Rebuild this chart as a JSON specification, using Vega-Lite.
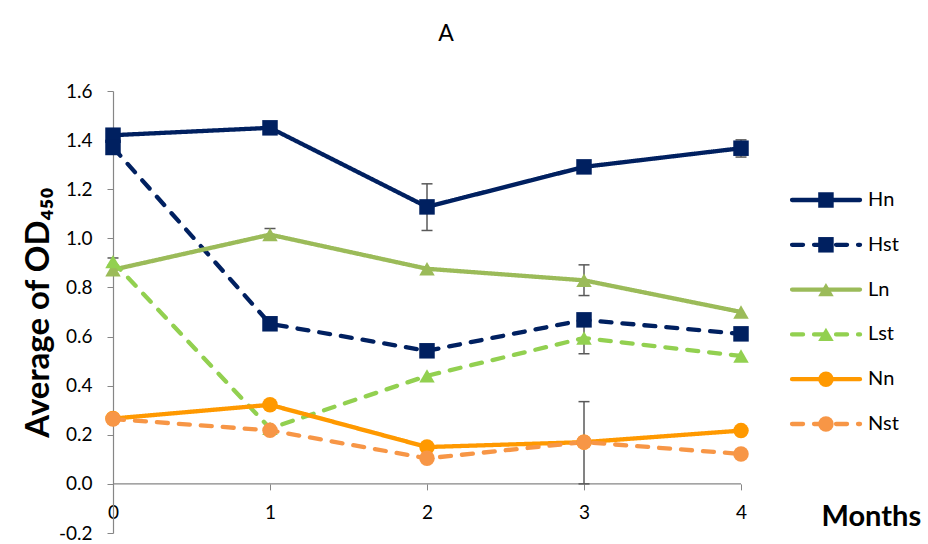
{
  "$schema": "https://vega.github.io/schema/vega-lite/v6.json",
  "width": 815,
  "height": 442,
  "autosize": {"type": "none"},
  "padding": {"left": 113, "top": 91, "right": 0, "bottom": 11},
  "background": "white",
  "config": {"view": {"stroke": null}, "font": "Lato"},
  "title": {"text": "A", "fontSize": 23, "fontWeight": "normal", "color": "black", "anchor": "middle", "dx": -74.5, "baseline": "bottom", "offset": 13, "font": "Lato"},
  "datasets": {
    "series": [
      {"month": 0, "value": 1.42, "series": "Hn"},
      {"month": 1, "value": 1.45, "series": "Hn"},
      {"month": 2, "value": 1.128, "series": "Hn"},
      {"month": 3, "value": 1.291, "series": "Hn"},
      {"month": 4, "value": 1.367, "series": "Hn"},
      {"month": 0, "value": 1.37, "series": "Hst"},
      {"month": 1, "value": 0.652, "series": "Hst"},
      {"month": 2, "value": 0.542, "series": "Hst"},
      {"month": 3, "value": 0.668, "series": "Hst"},
      {"month": 4, "value": 0.611, "series": "Hst"},
      {"month": 0, "value": 0.872, "series": "Ln"},
      {"month": 1, "value": 1.015, "series": "Ln"},
      {"month": 2, "value": 0.876, "series": "Ln"},
      {"month": 3, "value": 0.829, "series": "Ln"},
      {"month": 4, "value": 0.7, "series": "Ln"},
      {"month": 0, "value": 0.905, "series": "Lst"},
      {"month": 1, "value": 0.226, "series": "Lst"},
      {"month": 2, "value": 0.44, "series": "Lst"},
      {"month": 3, "value": 0.594, "series": "Lst"},
      {"month": 4, "value": 0.521, "series": "Lst"},
      {"month": 0, "value": 0.266, "series": "Nn"},
      {"month": 1, "value": 0.322, "series": "Nn"},
      {"month": 2, "value": 0.15, "series": "Nn"},
      {"month": 3, "value": 0.17, "series": "Nn"},
      {"month": 4, "value": 0.217, "series": "Nn"},
      {"month": 0, "value": 0.264, "series": "Nst"},
      {"month": 1, "value": 0.218, "series": "Nst"},
      {"month": 2, "value": 0.104, "series": "Nst"},
      {"month": 3, "value": 0.17, "series": "Nst"},
      {"month": 4, "value": 0.122, "series": "Nst"}
    ],
    "errors": [
      {"month": 2, "low": 1.032, "high": 1.222},
      {"month": 4, "low": 1.331, "high": 1.401},
      {"month": 1, "low": 0.995, "high": 1.04},
      {"month": 0, "low": 0.89, "high": 0.92},
      {"month": 3, "low": 0.767, "high": 0.892},
      {"month": 3, "low": 0.53, "high": 0.66},
      {"month": 3, "low": 0.0, "high": 0.335}
    ],
    "legend": [
      {"series": "Hn"}, {"series": "Hst"}, {"series": "Ln"},
      {"series": "Lst"}, {"series": "Nn"}, {"series": "Nst"}
    ]
  },
  "resolve": {"scale": {"y": "independent"}},
  "layer": [
    {
      "layer": [
        {
          "data": {"values": [{"z": 0}]},
          "mark": {"type": "rule", "color": "#868686", "strokeWidth": 1.2},
          "encoding": {
            "x": {"datum": 0, "type": "quantitative", "scale": {"domain": [0, 5.191], "nice": false, "zero": false},
              "axis": {"values": [0, 1, 2, 3, 4], "format": "d", "offset": -49.11, "domain": false, "grid": false, "ticks": true, "tickSize": 6, "tickColor": "#868686",
                "labelFontSize": 19, "labelColor": "black", "labelPadding": 14, "labelFont": "Lato", "labelFlush": false,
                "title": "Months", "titleFontSize": 29, "titleFontWeight": "bold", "titleColor": "black", "titleFont": "Lato",
                "titleX": 708, "titleY": 33, "titleAlign": "left", "titleBaseline": "middle", "titleAnchor": "start"}},
            "x2": {"datum": 4},
            "y": {"datum": 0, "type": "quantitative", "scale": {"domain": [-0.2, 1.6], "nice": false, "zero": false},
              "axis": {"values": [-0.2, 0, 0.2, 0.4, 0.6, 0.8, 1.0, 1.2, 1.4, 1.6], "labelExpr": "datum.value < 0 ? '-' + format(-datum.value, '.1f') : format(datum.value, '.1f')", "grid": false,
                "domainColor": "#868686", "domainWidth": 1.2, "tickColor": "#868686", "tickSize": 6,
                "labelFontSize": 19, "labelColor": "black", "labelPadding": 15, "labelFont": "Lato",
                "title": "Average of OD₄₅₀", "titleFontSize": 33, "titleFontWeight": "bold", "titleColor": "black", "titleFont": "Lato", "titlePadding": 3}}
          }
        },
        {
          "data": {"name": "errors"},
          "mark": {"type": "rule", "color": "#595959", "strokeWidth": 1.5},
          "encoding": {
            "x": {"field": "month", "type": "quantitative"},
            "y": {"field": "low", "type": "quantitative"},
            "y2": {"field": "high"}
          }
        },
        {
          "data": {"name": "errors"},
          "mark": {"type": "tick", "orient": "horizontal", "color": "#595959", "size": 11, "thickness": 1.5, "opacity": 1},
          "encoding": {
            "x": {"field": "month", "type": "quantitative"},
            "y": {"field": "low", "type": "quantitative"}
          }
        },
        {
          "data": {"name": "errors"},
          "mark": {"type": "tick", "orient": "horizontal", "color": "#595959", "size": 11, "thickness": 1.5, "opacity": 1},
          "encoding": {
            "x": {"field": "month", "type": "quantitative"},
            "y": {"field": "high", "type": "quantitative"}
          }
        },
        {
          "data": {"name": "series"},
          "mark": {"type": "line", "strokeWidth": 4.3, "strokeCap": "round", "strokeJoin": "round"},
          "encoding": {
            "x": {"field": "month", "type": "quantitative"},
            "y": {"field": "value", "type": "quantitative"},
            "color": {"field": "series", "type": "nominal", "legend": null,
              "scale": {"domain": ["Hn", "Hst", "Ln", "Lst", "Nn", "Nst"], "range": ["#002060", "#002060", "#9BBB59", "#92D050", "#FF9900", "#F79646"]}},
            "strokeDash": {"field": "series", "type": "nominal", "legend": null,
              "scale": {"domain": ["Hn", "Hst", "Ln", "Lst", "Nn", "Nst"], "range": [[1, 0], [11, 11], [1, 0], [11, 11], [1, 0], [11, 11]]}}
          }
        },
        {
          "data": {"name": "series"},
          "mark": {"type": "point", "filled": true, "opacity": 1, "size": 240},
          "encoding": {
            "x": {"field": "month", "type": "quantitative"},
            "y": {"field": "value", "type": "quantitative"},
            "color": {"field": "series", "type": "nominal", "legend": null},
            "shape": {"field": "series", "type": "nominal", "legend": null,
              "scale": {"domain": ["Hn", "Hst", "Ln", "Lst", "Nn", "Nst"], "range": ["square", "square", "triangle-up", "triangle-up", "circle", "circle"]}}
          }
        }
      ]
    },
    {
      "data": {"name": "legend"},
      "encoding": {
        "y": {"field": "series", "type": "nominal", "axis": null,
          "scale": {"type": "point", "padding": 0.433, "domain": [" ", "  ", "Hn", "Hst", "Ln", "Lst", "Nn", "Nst", "   ", "    "]}}
      },
      "layer": [
        {
          "mark": {"type": "rule", "strokeWidth": 4.3, "strokeCap": "round"},
          "encoding": {
            "x": {"datum": 4.325},
            "x2": {"datum": 4.758},
            "color": {"field": "series", "type": "nominal", "legend": null},
            "strokeDash": {"field": "series", "type": "nominal", "legend": null}
          }
        },
        {
          "mark": {"type": "point", "filled": true, "opacity": 1, "size": 240},
          "encoding": {
            "x": {"datum": 4.541},
            "color": {"field": "series", "type": "nominal", "legend": null},
            "shape": {"field": "series", "type": "nominal", "legend": null}
          }
        },
        {
          "mark": {"type": "text", "align": "left", "baseline": "middle", "fontSize": 20, "color": "black", "font": "Lato", "dx": 0},
          "encoding": {
            "x": {"datum": 4.809},
            "text": {"field": "series", "type": "nominal"}
          }
        }
      ]
    }
  ]
}
